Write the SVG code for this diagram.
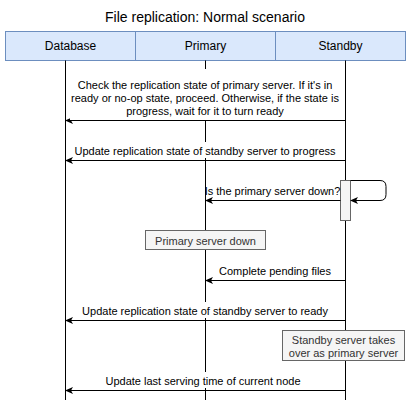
<svg xmlns="http://www.w3.org/2000/svg" width="411" height="402" viewBox="0 0 411 402">
<style>
text{font-family:"Liberation Sans",Arial,sans-serif;fill:#000}
.title{font-size:14px}
.hd{fill:#dae8fc;stroke:#6c8ebf;stroke-width:1}
.hdt{font-size:12px}
.life{stroke:#000;stroke-width:1;fill:none}
.msg{stroke:#000;stroke-width:1;fill:none;marker-end:url(#ah)}
.lbl{font-size:11px}
.bg{fill:#fff;stroke:none}
.note{fill:#f5f5f5;stroke:#666;stroke-width:1}
.nt{font-size:11px;fill:#333}
</style>
<defs>
<marker id="ah" viewBox="0 0 8 7" refX="7" refY="3.5" markerWidth="8" markerHeight="7" markerUnits="userSpaceOnUse" orient="auto">
<path d="M0,0 L8,3.5 L0,7 L2,3.5 Z" fill="#000"/>
</marker>
</defs>
<text class="title" x="205" y="22" text-anchor="middle">File replication: Normal scenario</text>
<g id="database">
<rect class="hd" x="5.5" y="31.5" width="130" height="29"/>
<text class="hdt" x="70.5" y="50" text-anchor="middle">Database</text>
<line class="life" x1="65.5" y1="60.5" x2="65.5" y2="400"/>
</g>
<g id="primary">
<rect class="hd" x="135.5" y="31.5" width="140" height="29"/>
<text class="hdt" x="205.5" y="50" text-anchor="middle">Primary</text>
<line class="life" x1="205.5" y1="60.5" x2="205.5" y2="400"/>
</g>
<g id="standby">
<rect class="hd" x="275.5" y="31.5" width="130" height="29"/>
<text class="hdt" x="340.5" y="50" text-anchor="middle">Standby</text>
<line class="life" x1="345.5" y1="60.5" x2="345.5" y2="400"/>
</g>
<g id="activation">
<rect class="note" x="340.5" y="180.5" width="10" height="40"/>
</g>
<g id="connectors">
<path class="msg" d="M345.5,120.5 H66"/>
<path class="msg" d="M345.5,160.5 H66"/>
<path class="msg" d="M350.5,180.5 H380 Q386,180.5 386,186.5 V194.5 Q386,200.5 380,200.5 H351"/>
<path class="msg" d="M340.5,200.5 H206"/>
<path class="msg" d="M345.5,280.5 H206"/>
<path class="msg" d="M345.5,320.5 H66"/>
<path class="msg" d="M345.5,390.5 H66"/>
</g>
<g id="labels">
<rect class="bg" x="70" y="69" width="270" height="51"/>
<text class="lbl" x="205" y="89" text-anchor="middle">Check the replication state of primary server. If it's in</text>
<text class="lbl" x="205" y="102" text-anchor="middle">ready or no-op state, proceed. Otherwise, if the state is</text>
<text class="lbl" x="205" y="115" text-anchor="middle">progress, wait for it to turn ready</text>
<rect class="bg" x="74" y="142" width="262" height="16"/>
<text class="lbl" x="205" y="155" text-anchor="middle">Update replication state of standby server to progress</text>
<text class="lbl" x="272.5" y="195" text-anchor="middle">Is the primary server down?</text>
<text class="lbl" x="275" y="275" text-anchor="middle">Complete pending files</text>
<rect class="bg" x="80" y="302" width="250" height="16"/>
<text class="lbl" x="205" y="315" text-anchor="middle">Update replication state of standby server to ready</text>
<rect class="bg" x="104" y="372" width="200" height="16"/>
<text class="lbl" x="203" y="385" text-anchor="middle">Update last serving time of current node</text>
</g>
<g id="primary-down">
<rect class="note" x="145.5" y="230.5" width="120" height="19"/>
<text class="nt" x="205.5" y="244.5" text-anchor="middle">Primary server down</text>
</g>
<g id="standby-takeover">
<rect class="note" x="282.5" y="330.5" width="122" height="30"/>
<text class="nt" x="343.5" y="344" text-anchor="middle">Standby server takes</text>
<text class="nt" x="343.5" y="357" text-anchor="middle">over as primary server</text>
</g>
</svg>
